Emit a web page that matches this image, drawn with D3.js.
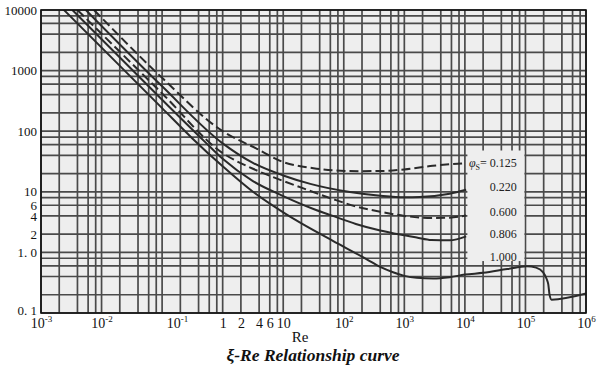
<!DOCTYPE html>
<html><head><meta charset="utf-8">
<script src="https://cdn.jsdelivr.net/npm/d3@7"></script>
<style>
html,body{margin:0;padding:0;background:#fff;}
svg{display:block;}
</style></head>
<body>
<svg id="chart" width="601" height="383"></svg>
<script>
// ---------------- data ----------------
const xTickValues = [1e-3, 1e-2, 1e-1, 1, 2, 4, 6, 10, 1e2, 1e3, 1e4, 1e5, 1e6];
const xTickBase   = ["10","10","10","1","2","4","6","10","10","10","10","10","10"];
const xTickExp    = ["-3","-2","-1","","","","","","2","3","4","5","6"];
const yTickValues = [1e4, 1e3, 1e2, 10, 6, 4, 2, 1, 0.1];
const yTickLabels = ["10000","1000","100","10","6","4","2","1. 0","0. 1"];
const gridMultiples = [1, 2, 4, 6, 8];

const curveNames  = ["0.125", "0.220", "0.600", "0.806", "1.000"];
const curveDashed = [true, false, true, false, false];
const labelValues = [29.7, 12.3, 4.75, 2.06, 0.86];
const phi0125 = [[0.0075,10000],[0.1,760],[1,100],[3.67,51.3],[10,31],[31.6,24.5],[66,22.6],[200,21.9],[447,22.1],[1000,23.4],[2950,26.9],[9300,29.5]];
const phi0220 = [[0.0055,10000],[0.1,550],[1,63],[3.16,30],[10,18.6],[28,13.5],[126,9.9],[400,8.6],[1000,8.1],[1800,8.2],[5600,9.3],[10500,10.8]];
const phi0600 = [[0.004,10000],[0.1,420],[1,43.6],[3.16,24],[10,15.1],[20,11.7],[66,7.6],[158,5.75],[447,4.6],[1000,4.0],[2800,3.7],[5600,3.74],[10500,4.08]];
const phi0806 = [[0.0033,10000],[0.1,330],[0.5,68],[1,35],[3.16,15],[10,8.5],[31.6,5.2],[66,4.0],[158,2.95],[400,2.3],[850,1.97],[1600,1.76],[2800,1.6],[5600,1.58],[10500,1.84]];
const phi1000 = [[0.0022,10900],[0.1,240],[0.316,76],[1,26.3],[3.16,10],[10,4.57],[20,3.0],[66,1.55],[240,0.77],[400,0.575],[650,0.47],[1000,0.41],[1600,0.38],[3000,0.37],[5600,0.39],[10000,0.43],[20000,0.46],[50000,0.53],[105000,0.59],[150000,0.56],[196000,0.47],[225000,0.36],[238000,0.3],[250000,0.2],[270000,0.166],[1000000,0.21]];
const curveData = [phi0125, phi0220, phi0600, phi0806, phi1000];

// ---------------- layout ----------------
const L = 41, R = 586, T = 10, B = 313;
const svg = d3.select("#chart");
const x = d3.scaleLog().domain([1e-3, 1e6]).range([L, R]);
const y = d3.scaleLog().domain([0.1, 1e4]).range([B, T]);
const serif = "'Liberation Serif','Times New Roman',serif";

svg.append("rect").attr("x", L).attr("y", T).attr("width", R - L).attr("height", B - T).attr("fill", "#eeeeee");

// grid lines
const gridX = [], gridY = [];
for (let k = -3; k <= 6; k++) gridMultiples.forEach(m => { const v = m * Math.pow(10, k); if (v >= 1e-3 && v <= 1e6) gridX.push(v); });
for (let k = -1; k <= 4; k++) gridMultiples.forEach(m => { const v = m * Math.pow(10, k); if (v >= 0.1 && v <= 1e4) gridY.push(v); });
const g = svg.append("g").attr("stroke", "#4a4a4a").attr("stroke-width", 1.7);
g.selectAll("line.v").data(gridX).join("line").attr("class","v")
  .attr("x1", d => x(d)).attr("x2", d => x(d)).attr("y1", T).attr("y2", B);
g.selectAll("line.h").data(gridY).join("line").attr("class","h")
  .attr("y1", d => y(d)).attr("y2", d => y(d)).attr("x1", L).attr("x2", R);

// label box (blanks grid under curve labels)
svg.append("rect").attr("x", x(1.1e4)).attr("y", y(48)).attr("width", x(9.6e4) - x(1.1e4)).attr("height", y(0.72) - y(48)).attr("fill", "#eeeeee");

// curves
svg.append("clipPath").attr("id", "clip").append("rect").attr("x", L).attr("y", T).attr("width", R - L).attr("height", B - T);
const line = d3.line().x(d => x(d[0])).y(d => y(d[1])).curve(d3.curveMonotoneX);
svg.append("g").attr("clip-path", "url(#clip)").selectAll("path").data(curveData).join("path")
  .attr("d", line).attr("fill", "none").attr("stroke", "#2a2a2a").attr("stroke-width", 2)
  .attr("stroke-dasharray", (d, i) => curveDashed[i] ? "9,4" : null);

// frame
svg.append("rect").attr("x", L).attr("y", T).attr("width", R - L).attr("height", B - T)
  .attr("fill", "none").attr("stroke", "#111").attr("stroke-width", 1.6);

// curve labels
const lab = svg.append("g").attr("font-family", serif).attr("font-size", 12).attr("fill", "#222");
curveNames.forEach((n, i) => {
  const t = lab.append("text").attr("x", x(7.2e4)).attr("y", y(labelValues[i])).attr("dy", "0.35em").attr("text-anchor", "end");
  if (i === 0) {
    t.append("tspan").attr("font-style", "italic").text("φ");
    t.append("tspan").attr("font-size", 8).attr("dy", 3).text("S");
    t.append("tspan").attr("dy", -3).text("= " + n);
  } else t.text(n);
});

// y axis
const ya = svg.append("g").attr("transform", `translate(${L},0)`)
  .call(d3.axisLeft(y).tickValues(yTickValues).tickSize(0).tickPadding(4).tickFormat((d, i) => yTickLabels[i]));
ya.select(".domain").remove();
ya.selectAll("text").attr("font-family", serif).attr("font-size", 13).attr("fill", "#111")
  .attr("dy", (d) => d === 0.1 ? "0.1em" : "0.32em");

// x axis
const xa = svg.append("g").attr("transform", `translate(0,${B})`)
  .call(d3.axisBottom(x).tickValues(xTickValues).tickSize(0).tickPadding(6).tickFormat(() => ""));
xa.select(".domain").remove();
xa.selectAll(".tick text").each(function(d, i) {
  const t = d3.select(this).attr("font-family", serif).attr("font-size", 14).attr("fill", "#111")
    .attr("text-anchor", "middle").attr("y", 15).attr("dy", 0);
  if (d === 0.1) t.attr("x", 15);
  t.append("tspan").text(xTickBase[i]);
  if (xTickExp[i]) t.append("tspan").attr("font-size", 9).attr("dy", -6).text(xTickExp[i]);
});

svg.append("text").attr("x", 300).attr("y", 342).attr("text-anchor", "middle")
  .attr("font-family", serif).attr("font-size", 15).attr("fill", "#111").text("Re");
svg.append("text").attr("x", 313).attr("y", 361).attr("text-anchor", "middle")
  .attr("font-family", serif).attr("font-size", 17.5).attr("font-weight", "bold").attr("font-style", "italic").attr("fill", "#111")
  .text("ξ-Re Relationship curve");
</script>
</body></html>
